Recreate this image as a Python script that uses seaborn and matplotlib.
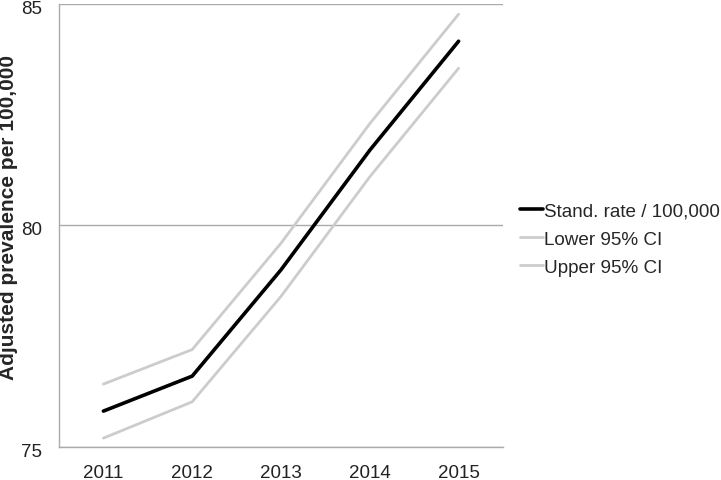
import pandas as pd
import seaborn as sns
import matplotlib.pyplot as plt
from matplotlib.transforms import ScaledTranslation

years = ["2011", "2012", "2013", "2014", "2015"]
stand_rate = [75.81, 76.60, 79.00, 81.70, 84.16]
lower_ci = [75.20, 76.02, 78.40, 81.10, 83.55]
upper_ci = [76.42, 77.20, 79.60, 82.30, 84.77]
series_names = ["Stand. rate / 100,000", "Lower 95% CI", "Upper 95% CI"]

sns.set_style("white")
plt.rcParams["font.family"] = ["Liberation Sans", "DejaVu Sans"]

rows = []
for name, vals in zip(series_names, [stand_rate, lower_ci, upper_ci]):
    for i, (yr, v) in enumerate(zip(years, vals)):
        rows.append({"pos": i, "year": yr, "value": v, "series": name})
df = pd.DataFrame(rows)

palette = {series_names[0]: "black", series_names[1]: "#cccccc", series_names[2]: "#cccccc"}
sizes = {series_names[0]: 2.6, series_names[1]: 2.0, series_names[2]: 2.0}

fig = plt.figure(figsize=(7.21, 4.81), dpi=100)
ax = fig.add_axes([59 / 721, 33 / 481, 444 / 721, 443 / 481])

sns.lineplot(data=df, x="pos", y="value", hue="series", size="series",
             palette=palette, sizes=sizes, hue_order=series_names,
             size_order=series_names, ax=ax, legend=True)

ax.set_xlim(-0.5, 4.5)
ax.set_ylim(75, 85)
ax.set_yticks([75, 80, 85])
ax.set_xticks(range(len(years)))
ax.set_xticklabels(years)
ax.tick_params(axis="both", labelsize=13.5, colors="#222222")
ax.tick_params(axis="y", length=4.5, width=1, color="#aaaaaa", pad=7.5)
ax.tick_params(axis="x", length=0, pad=12)
ax.grid(axis="y", color="#aaaaaa", linewidth=1)
for side in ["top", "right"]:
    ax.spines[side].set_visible(False)
for side in ["left", "bottom"]:
    ax.spines[side].set_color("#aaaaaa")
    ax.spines[side].set_linewidth(1)

# nudge y tick labels slightly below their gridlines, like the original
shift = ScaledTranslation(0, -2.5 / 100, fig.dpi_scale_trans)
for lab in ax.get_yticklabels():
    lab.set_transform(lab.get_transform() + shift)

ax.set_xlabel("")
ax.set_ylabel("Adjusted prevalence per 100,000", fontsize=15, fontweight="bold")
ax.yaxis.set_label_coords(-0.092, 0.521)

handles, labels = ax.get_legend_handles_labels()
ax.legend(handles, labels, loc="center left", bbox_to_anchor=(520 / 721, 241 / 481),
          bbox_transform=fig.transFigure, borderaxespad=0, borderpad=0,
          frameon=False, fontsize=13.6, handlelength=1.2, handletextpad=0.08,
          labelspacing=0.58)

fig.savefig("out.png", dpi=100)
